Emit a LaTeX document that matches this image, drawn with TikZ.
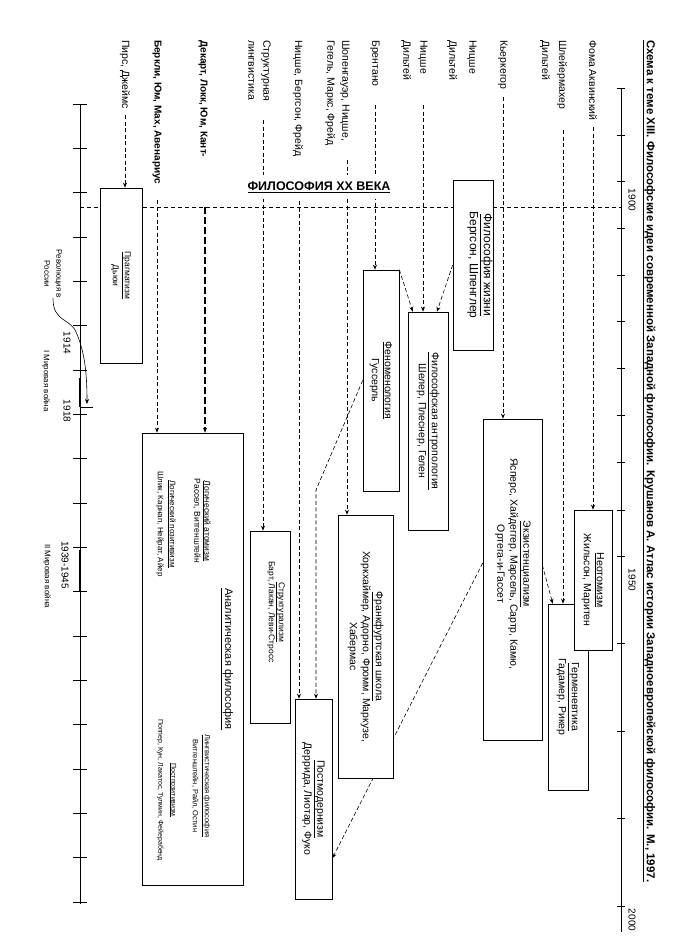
\documentclass[tikz,border=0pt]{standalone}
\usepackage{fontspec}
\setmainfont{Liberation Sans}
\usetikzlibrary{arrows.meta,calc}
\pgfdeclarelayer{background}
\pgfsetlayers{background,main}

\tikzset{
  box/.style={draw, fill=white, line width=0.7pt, rotate=-90, inner sep=1pt, align=center,
    font=\fontsize{10.5}{13}\selectfont},
  srclabel/.style={rotate=-90, anchor=west, align=left, inner sep=0pt,
    font=\fontsize{10.5}{15}\selectfont},
  boxtext/.style={rotate=-90, align=center, inner sep=0pt, font=\fontsize{10.5}{13}\selectfont},
  smalltext/.style={rotate=-90, align=center, inner sep=0pt, font=\fontsize{7.5}{11}\selectfont},
  yeartext/.style={rotate=-90, inner sep=0pt, font=\fontsize{10}{12}\selectfont},
  flow/.style={line width=0.6pt, dash pattern=on 4pt off 2.5pt, -{Stealth[length=5pt,width=4pt]}},
  boldflow/.style={flow, line width=1.1pt, dash pattern=on 7pt off 3pt},
}

\begin{document}
\begin{tikzpicture}[x=1pt, y=-1pt]
  \useasboundingbox (0,0) rectangle (675,938);

  % title
  \node[rotate=-90, anchor=west, inner sep=0pt, font=\bfseries\fontsize{11.5}{13}\selectfont] (title) at (649,40)
    {\underline{Схема к теме XIII. Философские идеи современной Западной философии. Крушанов А. Атлас истории Западноевропейской философии. М., 1997.}};

  % upper time axis
  \draw[line width=0.6pt] (621,88) -- (621,932);
  \foreach \ty in {88,135,181,228,275,321,368,415,462,510,556,643,731,818,906}
    \draw[line width=0.6pt] (617,\ty) -- (625,\ty);
  \node[yeartext] (y1900) at (632,200) {1900};
  \node[yeartext] (y1950) at (632,580) {1950};
  \node[yeartext] (y2000) at (632,920) {2000};

  % lower time axis
  \draw[line width=0.6pt] (80,104) -- (80,904);
  \foreach \k in {0,...,18}
    \draw[line width=0.6pt] (73,{104+44.33*\k}) -- (87,{104+44.33*\k});
  \draw[line width=2.5pt] (80,378) -- (80,407);
  \draw[line width=0.6pt] (80,407) -- (93,407);
  \draw[line width=2.5pt] (80,550) -- (80,591);

  \node[smalltext, font=\fontsize{8}{12}\selectfont] (rev) at (53,274) {Революция в\\России};
  \node[yeartext] (y1914) at (67,343) {1914};
  \node[yeartext] (y1918) at (67,411) {1918};
  \node[smalltext, font=\fontsize{8}{10}\selectfont] (ww1) at (46,381) {I Мировая война};
  \node[yeartext] (y1939) at (65,565) {1939-1945};
  \node[smalltext, font=\fontsize{8}{10}\selectfont] (ww2) at (47,576) {II Мировая война};
  \draw[line width=0.6pt, -{Stealth[length=5pt,width=4pt]}] (rev.east)
    .. controls (53,322) and (70,318) .. (76,332) .. controls (84,350) and (87,370) .. (87,404);

  % sources
  \node[srclabel] (foma) at (593,40) {Фома Аквинский};
  \node[srclabel] (schl) at (553.5,40) {Шлейермахер\\[2pt]Дильтей};
  \node[srclabel] (kierk) at (503,40) {Кьеркегор};
  \node[srclabel] (nd1) at (462,40) {Ницше\\[5pt]Дильтей};
  \node[srclabel] (nd2) at (414.5,40) {Ницше\\[2pt]Дильтей};
  \node[srclabel] (brent) at (375,40) {Брентано};
  \node[srclabel] (schop) at (337.5,40) {Шопенгауэр, Ницше,\\Гегель, Маркс, Фрейд};
  \node[srclabel] (nbf) at (298,40) {Ницше, Бергсон, Фрейд};
  \node[srclabel] (slin) at (259.5,40) {Структурная\\лингвистика};
  \node[srclabel, font=\bfseries\fontsize{10}{15}\selectfont] (desc) at (203,40) {Декарт, Локк, Юм, Кант-};
  \node[srclabel, font=\bfseries\fontsize{10}{15}\selectfont] (berk) at (157,40) {Беркли, Юм, Мах, Авенариус};
  \node[srclabel] (pirs) at (125,40) {Пирс, Джеймс};

  \coordinate (foma-s) at (593,127);
  \coordinate (schl-s) at (563,130);
  \coordinate (kierk-s) at (503,97);
  \coordinate (nd2-s) at (423,105);
  \coordinate (brent-s) at (375,105);
  \coordinate (schop-s) at (347,160);
  \coordinate (nbf-s) at (299,175);
  \coordinate (slin-s) at (263,120);
  \coordinate (desc-s) at (205,207);
  \coordinate (berk-s) at (157,200);
  \coordinate (pirs-s) at (125,115);
  \coordinate (bend) at (316,490);

  % schools
  \node[box, minimum width=170pt, minimum height=40pt] (life) at (473,265) {};
  \node[boxtext, font=\fontsize{12}{14}\selectfont] (life-t) at (480,265) {\underline{Философия жизни}\\Бергсон, Шпенглер};
  \node[box, minimum width=218pt, minimum height=40pt] (anthr) at (428,421)
    {\underline{Философская антропология}\\Шелер, Плеснер, Гелен};
  \node[box, minimum width=221pt, minimum height=36pt] (phen) at (381,380.5)
    {\underline{Феноменология}\\Гуссерль};
  \node[box, minimum width=321pt, minimum height=59pt] (exist) at (512.5,579.5) {};
  \node[boxtext] (exist-t) at (513,564)
    {\underline{Экзистенциализм}\\Ясперс, Хайдеггер, Марсель, Сартр, Камю,\\Ортега-и-Гассет};
  \node[box, minimum width=186pt, minimum height=40pt] (herm) at (568,697)
    {\underline{Герменевтика}\\Гадамер, Рикер};
  \node[box, minimum width=140pt, minimum height=38pt] (neo) at (593,580)
    {\underline{Неотомизм}\\Жильсон, Маритен};
  \node[box, minimum width=263pt, minimum height=55pt] (frank) at (365.5,646.5)
    {\underline{Франкфуртская школа}\\Хоркхаймер, Адорно, Фромм, Маркузе,\\Хабермас};
  \node[box, minimum width=200pt, minimum height=37pt] (postm) at (313.5,799)
    {\underline{Постмодернизм}\\Деррида, Лиотар, Фуко};
  \node[box, minimum width=192pt, minimum height=40pt] (struct) at (270,627) {};
  \node[boxtext, font=\fontsize{8.5}{10}\selectfont] (struct-t) at (276,612)
    {\underline{Структурализм}\\Барт, Лакан, Леви-Стросс};
  \node[box, minimum width=175pt, minimum height=42pt, font=\fontsize{8.5}{12}\selectfont] (prag) at (121,275.5)
    {\underline{Прагматизм}\\Дьюи};

  \node[box, minimum width=452pt, minimum height=101pt] (anal) at (192.5,659) {};
  \node[boxtext, font=\fontsize{11}{13}\selectfont] (anal-t) at (227,659) {\underline{Аналитическая философия}};
  \node[smalltext, font=\fontsize{8.5}{10}\selectfont] (atom) at (202,521)
    {\underline{Логический атомизм}\\Рассел, Витгенштейн};
  \node[smalltext, font=\fontsize{8}{12}\selectfont] (posit) at (166,524)
    {\underline{Логический позитивизм}\\Шлик, Карнап, Нейрат, Айер};
  \node[smalltext, font=\fontsize{7.5}{12}\selectfont] (ling) at (201,786)
    {\underline{Лингвистическая философия}\\Витгенштейн, Райл, Остин};
  \node[smalltext, font=\fontsize{7}{13}\selectfont] (postpos) at (166.5,790)
    {\underline{Постпозитивизм}\\Поппер, Кун, Лакатос, Тулмин, Фейерабенд};

  \node[fill=white, inner xsep=2pt, inner ysep=7pt, font=\bfseries\fontsize{12.5}{14}\selectfont] (century) at (319,187)
    {\underline{ФИЛОСОФИЯ XX ВЕКА}};

  % connectors behind the boxes
  \begin{pgfonlayer}{background}
    \draw[line width=0.6pt, dash pattern=on 4pt off 3pt] (80,207) -- (621,207);
    \draw[flow] (foma-s) -- (foma-s |- neo.west);
    \draw[flow] (schl-s) -- (schl-s |- herm.west);
    \draw[flow] (kierk-s) -- (kierk-s |- exist.west);
    \draw[flow] (nd2-s) -- (nd2-s |- anthr.west);
    \draw[flow] (brent-s) -- (brent-s |- phen.west);
    \draw[flow] (schop-s) -- (schop-s |- frank.west);
    \draw[flow] (nbf-s) -- (nbf-s |- postm.west);
    \draw[flow] (slin-s) -- (slin-s |- struct.west);
    \draw[boldflow] (desc-s) -- (desc-s |- anal.west);
    \draw[flow] (berk-s) -- (berk-s |- anal.west);
    \draw[flow] (pirs-s) -- (pirs-s |- prag.west);
    \draw[flow] (phen.north west) -- ($(anthr.south west)!0.125!(anthr.north west)$);
    \draw[flow] (life.south) -- ($(anthr.south west)!0.72!(anthr.north west)$);
    \draw[flow] ($(exist.north west)!0.455!(exist.north east)$) -- ($(herm.south west)!0.125!(herm.north west)$);
    \draw[flow] ($(exist.south west)!0.449!(exist.south east)$) -- ($(postm.north west)!0.795!(postm.north east)$);
    \draw[flow] (phen.south) -- (bend) -- (bend |- postm.west);
  \end{pgfonlayer}
\end{tikzpicture}
\end{document}
